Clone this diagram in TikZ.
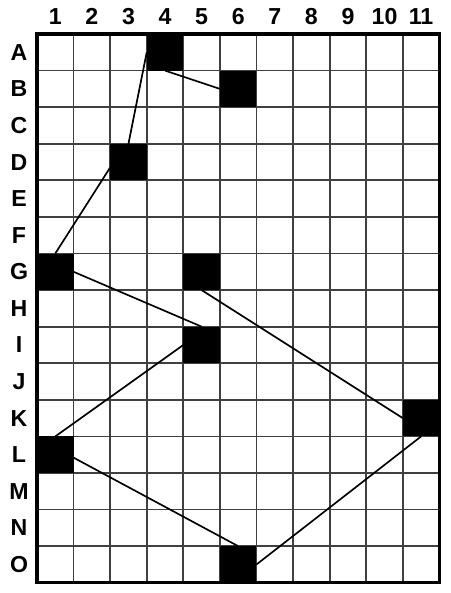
\documentclass[tikz,border=0pt]{standalone}
\usepackage{fontspec}
\setmainfont{Liberation Sans}
\begin{document}
\begin{tikzpicture}[x=1cm,y=1cm,
    sq/.style={fill=black,minimum size=1cm,inner sep=0pt,outer sep=0pt},
    lab/.style={font=\fontsize{18}{20}\selectfont\bfseries,inner sep=0pt},
    path/.style={line width=1.3pt,black}]
\useasboundingbox (-1.011,0.929) rectangle (11.29,-15.28);
\draw[line width=1.4pt,black!75] (0,-15) grid (11,0);
\draw[line width=2.4pt] (0,-15) rectangle (11,0);
\foreach \c in {1,...,11}
    \node[lab] (col\c) at (\c-0.5,0.48) {\c};
\foreach \r [count=\i] in {A,B,C,D,E,F,G,H,I,J,K,L,M,N,O}
    \node[lab] (row\r) at (-0.49,-\i+0.5) {\r};
\node[sq] (a4) at (3.5,-0.5) {};
\node[sq] (b6) at (5.5,-1.5) {};
\node[sq] (d3) at (2.5,-3.5) {};
\node[sq] (g1) at (0.5,-6.5) {};
\node[sq] (g5) at (4.5,-6.5) {};
\node[sq] (i5) at (4.5,-8.5) {};
\node[sq] (k11) at (10.5,-10.5) {};
\node[sq] (l1) at (0.5,-11.5) {};
\node[sq] (o6) at (5.5,-14.5) {};
\draw[path] (a4.west) -- (d3.north);
\draw[path] (a4.south) -- (b6.west);
\draw[path] ([yshift=-0.15cm]d3.west) -- (g1.north);
\draw[path] (g1.east) -- (i5.north);
\draw[path] (g5.south) -- (k11.west);
\draw[path] (i5.west) -- (l1.north);
\draw[path] ([yshift=-0.08cm]l1.east) -- (o6.north);
\draw[path] (o6.east) -- (k11.south);
\end{tikzpicture}
\end{document}
